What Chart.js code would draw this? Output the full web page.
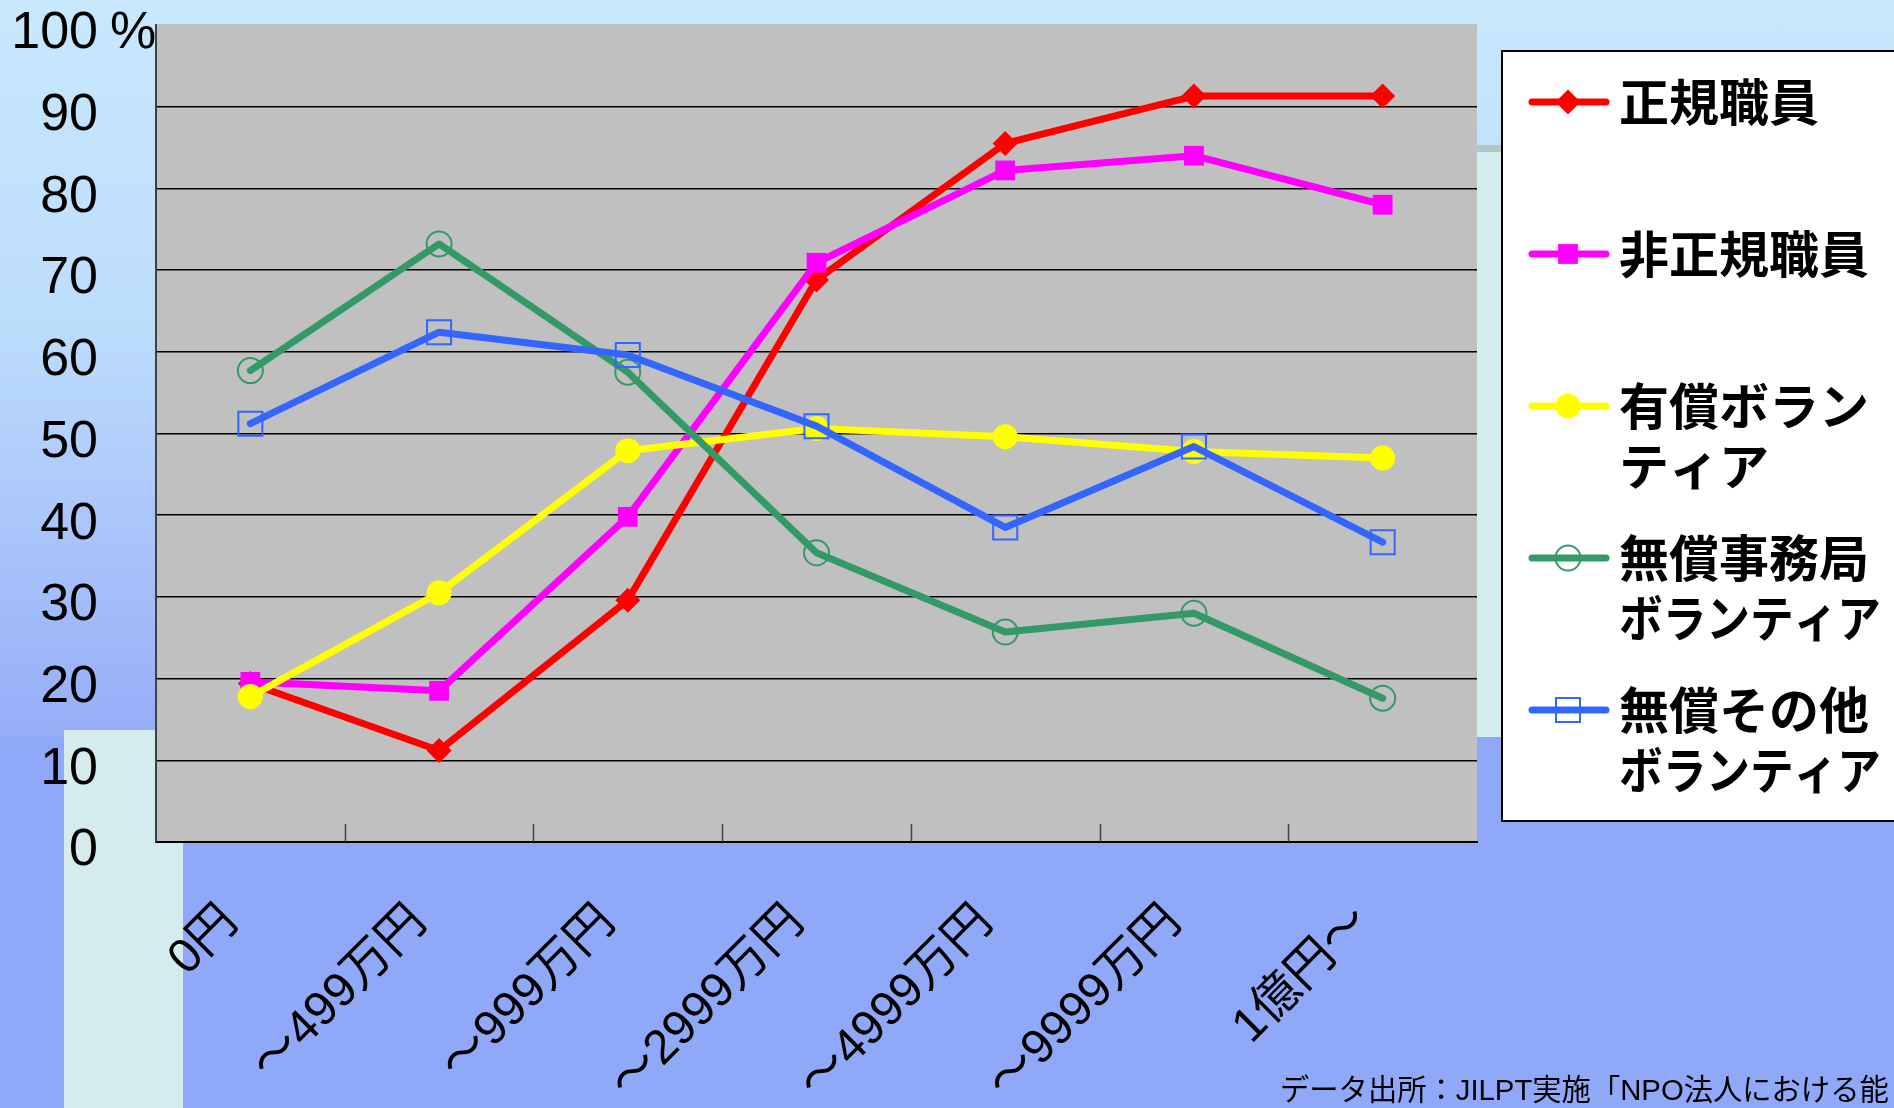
<!DOCTYPE html>
<html lang="ja">
<head>
<meta charset="utf-8">
<title>年間予算規模別 研修実施率</title>
<script src="https://cdn.jsdelivr.net/npm/chart.js@4.4.1/dist/chart.umd.min.js"></script>
<style>
  html, body { margin: 0; padding: 0; }
  body {
    width: 1894px; height: 1108px; overflow: hidden; position: relative;
    background: linear-gradient(to bottom, #c8e8fd 0%, #bcdcfc 30%, #96aef8 66%, #8fa8f8 100%);
    font-family: "Noto Sans CJK JP", sans-serif;
  }
  .deco { position: absolute; }
  #panelLine { left: 1477px; top: 145px; width: 417px; height: 7px; background: #b2c6c8; }
  #panelRight { left: 1477px; top: 152px; width: 417px; height: 585px; background: #d4ecee; }
  #panelBottom { left: 0; top: 737px; width: 1894px; height: 371px; background: #8fa8f8; }
  #stripLeft { left: 64px; top: 730px; width: 119px; height: 378px; background: #d4ecee; }
  #myChart { position: absolute; left: 0; top: 0; }
  #source {
    position: absolute; left: 1280px; top: 1066px; font-size: 29.3px; white-space: nowrap;
    color: #000; font-family: "Liberation Sans", "Noto Sans CJK JP", sans-serif;
  }
</style>
</head>
<body>
<div class="deco" id="panelBottom"></div>
<div class="deco" id="panelLine"></div>
<div class="deco" id="panelRight"></div>
<div class="deco" id="stripLeft"></div>
<canvas id="myChart" width="1894" height="1108"></canvas>
<div id="source">データ出所：JILPT実施「NPO法人における能</div>
<script>
const ctx = document.getElementById("myChart");

// categories (annual budget)
const categories = ["0円", "～499万円", "～999万円", "～2999万円", "～4999万円", "～9999万円", "1億円～"];

// series names and how they wrap in the legend
const seriesNames = ["正規職員", "非正規職員", "有償ボランティア", "無償事務局ボランティア", "無償その他ボランティア"];
const legendLines = [["正規職員"], ["非正規職員"], ["有償ボラン", "ティア"], ["無償事務局", "ボランティア"], ["無償その他", "ボランティア"]];

// values (%)
const regularStaff   = [19.4, 11.2, 29.6, 68.8, 85.5, 91.3, 91.3];
const nonRegular     = [19.6, 18.5, 39.8, 70.9, 82.2, 84.0, 78.0];
const paidVolunteer  = [17.8, 30.5, 47.9, 50.6, 49.6, 47.8, 47.0];
const unpaidOffice   = [57.7, 73.2, 57.5, 35.4, 25.7, 28.0, 17.6];
const unpaidOther    = [51.2, 62.4, 59.6, 50.9, 38.5, 48.4, 36.7];

// y axis
const yMin = 0;
const yMax = 100;
const yStep = 10;

const colors = ["#ff0000", "#ff00ff", "#ffff00", "#339966", "#3366ff"];
const fontFamily = "'Liberation Sans', 'Noto Sans CJK JP', sans-serif";

function makeDataset(i, values, style, radius, filled) {
  return {
    label: seriesNames[i],
    data: values,
    borderColor: colors[i],
    backgroundColor: colors[i],
    borderWidth: 7,
    borderCapStyle: "round",
    borderJoinStyle: "round",
    tension: 0,
    pointStyle: style,
    pointRadius: radius,
    pointBackgroundColor: filled ? colors[i] : "rgba(0,0,0,0)",
    pointBorderColor: colors[i],
    pointBorderWidth: filled ? 0 : 2,
    order: 5 - i
  };
}

// grey plot area
const plotBackground = {
  id: "plotBackground",
  beforeDraw(chart) {
    const a = chart.chartArea;
    const c = chart.ctx;
    c.save();
    c.fillStyle = "#c0c0c0";
    c.fillRect(a.left, a.top, a.right - a.left, a.bottom - a.top);
    c.restore();
  }
};

// inner tick marks on the x axis and the "%" after 100
const axisExtras = {
  id: "axisExtras",
  beforeDatasetsDraw(chart) {
    const c = chart.ctx;
    const xs = chart.scales.x;
    const ys = chart.scales.y;
    const a = chart.chartArea;
    c.save();
    c.strokeStyle = "#404040";
    c.lineWidth = 1.5;
    for (let i = 1; i < categories.length; i++) {
      const x = Math.round(xs.getPixelForValue(i - 0.5)) + 0.5;
      c.beginPath();
      c.moveTo(x, a.bottom);
      c.lineTo(x, a.bottom - 18);
      c.stroke();
    }
    c.fillStyle = "#000";
    c.font = "52px " + fontFamily;
    c.textAlign = "left";
    c.textBaseline = "middle";
    c.fillText("%", 110, ys.getPixelForValue(yMax) + 9);
    c.restore();
  }
};

// legend box with wrapped names
const legendBox = {
  id: "legendBox",
  afterDraw(chart) {
    const c = chart.ctx;
    c.save();
    c.fillStyle = "#ffffff";
    c.fillRect(1502, 51, 400, 770);
    c.strokeStyle = "#000";
    c.lineWidth = 2;
    c.strokeRect(1502, 51, 400, 770);
    chart.data.datasets.forEach((ds, i) => {
      const y = 102 + i * 152;
      c.strokeStyle = ds.borderColor;
      c.lineWidth = 7;
      c.lineCap = "round";
      c.beginPath();
      c.moveTo(1532, y);
      c.lineTo(1606, y);
      c.stroke();
      c.fillStyle = ds.pointBackgroundColor;
      c.strokeStyle = ds.pointBorderColor;
      c.lineWidth = ds.pointBorderWidth;
      Chart.helpers.drawPoint(c, {
        pointStyle: ds.pointStyle,
        radius: ds.pointRadius,
        borderWidth: ds.pointBorderWidth,
        rotation: 0
      }, 1568, y);
      c.fillStyle = "#000";
      c.font = "bold 50px 'Noto Sans CJK JP', sans-serif";
      c.textAlign = "left";
      c.textBaseline = "middle";
      legendLines[i].forEach((line, k) => {
        const w = c.measureText(line).width;
        c.fillText(line, 1619, y + k * 60, Math.min(w, 262));
      });
    });
    c.restore();
  }
};

const chart = new Chart(ctx, {
  type: "line",
  data: {
    labels: categories,
    datasets: [
      makeDataset(0, regularStaff, "rectRot", 12.5, true),
      makeDataset(1, nonRegular, "rect", 14, true),
      makeDataset(2, paidVolunteer, "circle", 12.5, true),
      makeDataset(3, unpaidOffice, "circle", 12.5, false),
      makeDataset(4, unpaidOther, "rect", 17, false)
    ]
  },
  options: {
    responsive: false,
    animation: false,
    events: [],
    layout: { padding: { top: 25, right: 417, left: 0, bottom: 0 } },
    plugins: {
      legend: { display: false },
      tooltip: { enabled: false }
    },
    scales: {
      x: {
        type: "category",
        offset: true,
        grid: { display: false },
        border: { display: true, color: "#000", width: 2 },
        ticks: {
          autoSkip: false,
          minRotation: 45,
          maxRotation: 45,
          padding: 44,
          labelOffset: -20,
          color: "#000",
          font: { size: 48, family: fontFamily }
        },
        afterFit(s) {
          s.height = 266;
          s.paddingLeft = 0;
          s.paddingRight = 0;
        }
      },
      y: {
        min: yMin,
        max: yMax,
        ticks: {
          stepSize: yStep,
          padding: 58,
          labelOffset: 9,
          color: "#000",
          font: { size: 52, family: fontFamily, lineHeight: 1 }
        },
        grid: {
          drawTicks: false,
          lineWidth: 1.5,
          color: (c) => c.tick.value === yMax ? "#b8c0c8" : (c.tick.value === yMin ? "rgba(0,0,0,0)" : "#000")
        },
        border: { color: "#404040", width: 2 },
        afterFit(s) {
          s.width = 156;
          s.paddingTop = 0;
          s.paddingBottom = 0;
        }
      }
    }
  },
  plugins: [plotBackground, axisExtras, legendBox]
});
</script>
</body>
</html>
